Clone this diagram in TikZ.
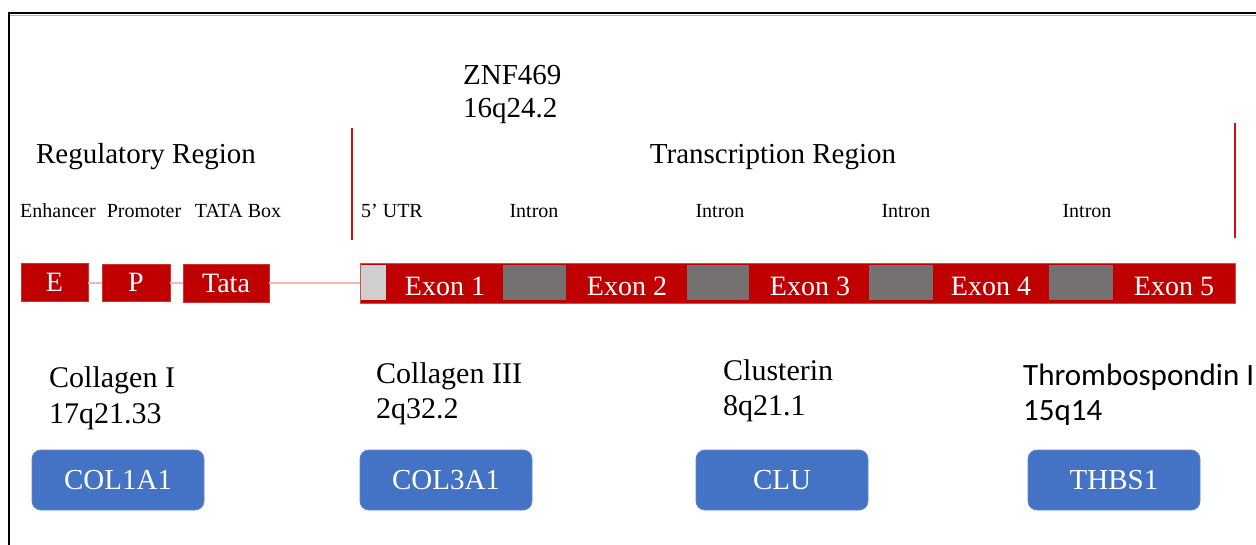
\documentclass[tikz,border=0pt]{standalone}
\usepackage{fontspec}
\setmainfont{Liberation Serif}
\newfontfamily\calib{Carlito}
\definecolor{exred}{HTML}{C00000}
\definecolor{lineRed}{HTML}{D01010}
\definecolor{pinkln}{HTML}{F2B8B8}
\definecolor{intgrey}{HTML}{767171}
\definecolor{utrgrey}{HTML}{D0CECE}
\definecolor{genblue}{HTML}{4472C4}
\tikzset{
  redbox/.style={fill=exred, draw=exred!80!white, line width=0.8pt, inner sep=0pt, text=white, font=\fontsize{28}{32}\selectfont},
  greybox/.style={fill=intgrey, draw=none, inner sep=0pt, minimum height=35pt},
  exlabel/.style={text=white, inner sep=0pt, font=\fontsize{28}{32}\selectfont, anchor=base},
  biglabel/.style={inner sep=0pt, font=\fontsize{29}{34}\selectfont, anchor=base},
  smalllabel/.style={inner sep=0pt, font=\fontsize{20}{24}\selectfont, anchor=base},
  genelabel/.style={inner sep=0pt, font=\fontsize{30}{35}\selectfont, anchor=base west},
  genebox/.style={fill=genblue, draw=genblue!85!white, line width=0.8pt, rounded corners=9pt, minimum width=172pt, minimum height=60pt, inner sep=0pt, text=white, font=\fontsize{29}{34}\selectfont},
  regline/.style={draw=lineRed, line width=2pt},
}
\begin{document}
\begin{tikzpicture}[x=1pt, y=-1pt]
\useasboundingbox (0,0) rectangle (1256,545);
\fill[white] (0,0) rectangle (1256,545);
% frame
\coordinate (ftl) at (9,13);
\coordinate (ftr) at (1256,13);
\coordinate (fbl) at (9,545);
\draw[gray!60, line width=1.5pt] (9,15.5) -- (1256,15.5);
\draw[black, line width=2pt] (ftr) -- (ftl) -- (fbl);

% top labels
\node[biglabel, anchor=base west] (znf) at (463,85) {ZNF469};
\node[biglabel, anchor=base west] (loc16) at (463,118) {16q24.2};
\node[biglabel] (reg) at (146,164) {Regulatory Region};
\node[biglabel] (trans) at (773,164) {Transcription Region};

% region separators
\coordinate (l1a) at (352,128);
\coordinate (l1b) at (352,240);
\coordinate (l2a) at (1235,123);
\coordinate (l2b) at (1235,238);
\draw[regline] (l1a) -- (l1b);
\draw[regline] (l2a) -- (l2b);

% small labels
\node[smalllabel] (enh) at (58,218) {Enhancer};
\node[smalllabel] (prom) at (144,218) {Promoter};
\node[smalllabel] (tatab) at (238,218) {TATA Box};
\node[smalllabel] (utrl) at (392,218) {5' UTR};
\node[smalllabel] (in1) at (534,218) {Intron};
\node[smalllabel] (in2) at (720,218) {Intron};
\node[smalllabel] (in3) at (906,218) {Intron};
\node[smalllabel] (in4) at (1087,218) {Intron};

% regulatory boxes
\node[redbox, minimum width=67pt, minimum height=38pt] (E) at (54.5,282.5) {E};
\node[redbox, minimum width=68pt, minimum height=37pt] (P) at (136,282.5) {P};
\node[redbox, minimum width=86pt, minimum height=38pt] (Tata) at (226,283) {Tata};

% exon bar
\node[fill=exred, draw=exred!70!white, line width=0.8pt, inner sep=0pt, minimum width=875pt, minimum height=40pt] (bar) at (797.5,283) {};
\node[fill=utrgrey, draw=none, inner sep=0pt, minimum width=25pt, minimum height=35pt] (utr) at (373.5,282.5) {};
\node[greybox, minimum width=63pt] (g1) at (534.5,282.5) {};
\node[greybox, minimum width=62pt] (g2) at (718,282.5) {};
\node[greybox, minimum width=64pt] (g3) at (901,282.5) {};
\node[greybox, minimum width=64pt] (g4) at (1081,282.5) {};

% connecting line
\draw[pinkln, line width=2pt] (E.east |- 0,283) -- (P.west |- 0,283);
\draw[pinkln, line width=2pt] (P.east |- 0,283) -- (Tata.west |- 0,283);
\draw[pinkln, line width=2pt] (Tata.east |- 0,283) -- (bar.west |- 0,283);

\node[exlabel] (ex1) at (445,296) {Exon 1};
\node[exlabel] (ex2) at (627,296) {Exon 2};
\node[exlabel] (ex3) at (810,296) {Exon 3};
\node[exlabel] (ex4) at (991,296) {Exon 4};
\node[exlabel] (ex5) at (1174,296) {Exon 5};

% gene labels
\node[genelabel] (c1) at (49,388) {Collagen I};
\node[genelabel] (c1l) at (49,423) {17q21.33};
\node[genelabel] (c3) at (376,384) {Collagen III};
\node[genelabel] (c3l) at (376,418) {2q32.2};
\node[genelabel] (clu) at (723,381) {Clusterin};
\node[genelabel] (clul) at (723,415) {8q21.1};
\node[genelabel, font=\calib\fontsize{31}{36}\selectfont] (thb) at (1023,385) {Thrombospondin I};
\node[genelabel, font=\calib\fontsize{31}{36}\selectfont] (thbl) at (1023,420) {15q14};

% gene boxes
\node[genebox] (col1) at (118,480) {COL1A1};
\node[genebox] (col3) at (446,480) {COL3A1};
\node[genebox] (clubox) at (782,480) {CLU};
\node[genebox] (thbs) at (1114,480) {THBS1};
\end{tikzpicture}
\end{document}
